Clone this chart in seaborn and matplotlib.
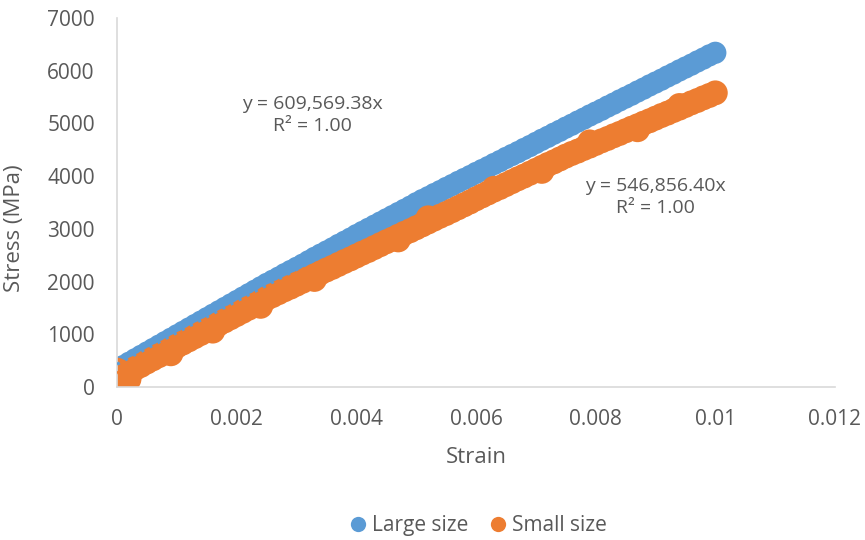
import numpy as np
import pandas as pd
import matplotlib
matplotlib.use("Agg")
import matplotlib.pyplot as plt
import seaborn as sns

sns.set_style("white")
plt.rcParams['font.family'] = ['Open Sans', 'DejaVu Sans']

# ---------------------
# Data
# ---------------------
strain = [0.0000, 0.0001, 0.0002, 0.0003, 0.0004, 0.0005, 0.0006, 0.0007, 0.0008, 0.0009,
          0.0010, 0.0011, 0.0012, 0.0013, 0.0014, 0.0015, 0.0016, 0.0017, 0.0018, 0.0019,
          0.0020, 0.0021, 0.0022, 0.0023, 0.0024, 0.0025, 0.0026, 0.0027, 0.0028, 0.0029,
          0.0030, 0.0031, 0.0032, 0.0033, 0.0034, 0.0035, 0.0036, 0.0037, 0.0038, 0.0039,
          0.0040, 0.0041, 0.0042, 0.0043, 0.0044, 0.0045, 0.0046, 0.0047, 0.0048, 0.0049,
          0.0050, 0.0051, 0.0052, 0.0053, 0.0054, 0.0055, 0.0056, 0.0057, 0.0058, 0.0059,
          0.0060, 0.0061, 0.0062, 0.0063, 0.0064, 0.0065, 0.0066, 0.0067, 0.0068, 0.0069,
          0.0070, 0.0071, 0.0072, 0.0073, 0.0074, 0.0075, 0.0076, 0.0077, 0.0078, 0.0079,
          0.0080, 0.0081, 0.0082, 0.0083, 0.0084, 0.0085, 0.0086, 0.0087, 0.0088, 0.0089,
          0.0090, 0.0091, 0.0092, 0.0093, 0.0094, 0.0095, 0.0096, 0.0097, 0.0098, 0.0099,
          0.0100]

stress_large = [330, 395, 460, 525, 590, 655, 720, 785, 850, 915,
                980, 1045, 1110, 1175, 1240, 1305, 1370, 1435, 1500, 1565,
                1630, 1695, 1760, 1825, 1890, 1955, 2015, 2075, 2140, 2200,
                2260, 2320, 2385, 2450, 2510, 2570, 2630, 2695, 2755, 2815,
                2880, 2940, 3000, 3060, 3120, 3180, 3240, 3300, 3360, 3420,
                3485, 3545, 3600, 3660, 3715, 3775, 3830, 3890, 3945, 4000,
                4060, 4115, 4170, 4230, 4285, 4345, 4400, 4455, 4515, 4570,
                4630, 4690, 4745, 4805, 4860, 4920, 4975, 5035, 5090, 5150,
                5205, 5260, 5320, 5375, 5435, 5490, 5545, 5605, 5660, 5720,
                5775, 5830, 5890, 5945, 6005, 6060, 6115, 6175, 6230, 6290,
                6340]

stress_small = [170, 230, 290, 350, 410, 475, 535, 595, 655, 715,
                775, 835, 895, 955, 1015, 1075, 1135, 1195, 1255, 1315,
                1375, 1435, 1495, 1555, 1615, 1680, 1735, 1790, 1845, 1895,
                1950, 2005, 2060, 2110, 2165, 2220, 2270, 2325, 2380, 2430,
                2485, 2540, 2590, 2645, 2700, 2755, 2805, 2860, 2915, 2965,
                3020, 3075, 3130, 3185, 3240, 3290, 3345, 3400, 3455, 3510,
                3570, 3625, 3680, 3735, 3785, 3840, 3895, 3950, 4000, 4055,
                4110, 4165, 4220, 4270, 4325, 4380, 4430, 4475, 4525, 4570,
                4620, 4670, 4715, 4765, 4810, 4860, 4910, 4955, 5005, 5050,
                5100, 5150, 5195, 5245, 5290, 5340, 5390, 5435, 5485, 5530,
                5580]

# scattered small-size readings just off the main band
extra_strain = [0.0000, 0.0000, 0.0002, 0.0009, 0.0016, 0.0024, 0.0033, 0.0047,
                0.0052, 0.0063, 0.0071, 0.0079, 0.0087, 0.0094]
extra_small = [60, 320, 150, 630, 1060, 1530, 2040, 2790,
               3210, 3770, 4090, 4650, 4880, 5340]

eq_large = "y = 609,569.38x\nR² = 1.00"
eq_small = "y = 546,856.40x\nR² = 1.00"

blue = "#5B9BD5"
orange = "#ED7D31"
text_col = "#595959"

large_df = pd.DataFrame({'Strain': strain, 'Stress': stress_large, 'Size': 'Large size'})
small_df = pd.DataFrame({'Strain': strain + extra_strain, 'Stress': stress_small + extra_small,
                         'Size': 'Small size'})
df = pd.concat([large_df, small_df], ignore_index=True)

# ---------------------
# Plot
# ---------------------
fig = plt.figure(figsize=(8.65, 5.4), dpi=100)
ax = fig.add_axes([0.1353, 0.2833, 0.83, 0.6834])

sns.scatterplot(data=df, x='Strain', y='Stress', hue='Size', size='Size',
                sizes={'Large size': 255, 'Small size': 320},
                palette={'Large size': blue, 'Small size': orange},
                edgecolor='none', alpha=1, ax=ax, legend=False, zorder=2)

# linear trendlines (dotted, drawn above the markers)
sns.regplot(data=large_df, x='Strain', y='Stress', scatter=False, ci=None, truncate=True,
            line_kws={'color': blue, 'linestyle': (0, (1, 2)), 'lw': 2.2, 'zorder': 3}, ax=ax)
sns.regplot(data=small_df, x='Strain', y='Stress', scatter=False, ci=None, truncate=True,
            line_kws={'color': orange, 'linestyle': (0, (1, 2)), 'lw': 2.2, 'zorder': 3}, ax=ax)

ax.set_xlim(0, 0.012)
ax.set_ylim(0, 7000)
ax.set_xticks([0, 0.002, 0.004, 0.006, 0.008, 0.01, 0.012])
ax.set_xticklabels(["0", "0.002", "0.004", "0.006", "0.008", "0.01", "0.012"])
ax.set_yticks(range(0, 7001, 1000))
ax.set_yticklabels([str(v) for v in range(0, 7001, 1000)])
ax.tick_params(axis='both', length=0, labelsize=15, labelcolor=text_col)
ax.tick_params(axis='x', pad=16)
ax.tick_params(axis='y', pad=16)

for side in ['top', 'right']:
    ax.spines[side].set_visible(False)
for side in ['left', 'bottom']:
    ax.spines[side].set_color('#D9D9D9')
    ax.spines[side].set_linewidth(1.2)
ax.grid(False)

ax.set_xlabel("Strain", fontsize=16, color=text_col, labelpad=12)
ax.set_ylabel("Stress (MPa)", fontsize=16, color=text_col)
ax.yaxis.set_label_coords(-0.128, 0.43)

ax.text(0.00326, 5160, eq_large, ha='center', va='center', fontsize=14,
        color=text_col, linespacing=1.3)
ax.text(0.0090, 3600, eq_small, ha='center', va='center', fontsize=14,
        color=text_col, linespacing=1.3)

handles = [plt.Line2D([], [], marker='o', linestyle='none', markersize=11,
                      markerfacecolor=c, markeredgecolor='none') for c in (blue, orange)]
fig.legend(handles, ['Large size', 'Small size'], loc='center', bbox_to_anchor=(0.553, 0.027),
           ncol=2, frameon=False, fontsize=15, labelcolor=text_col,
           handlelength=0.8, handletextpad=0.3, columnspacing=1.0)

plt.savefig("out.png", dpi=100)
